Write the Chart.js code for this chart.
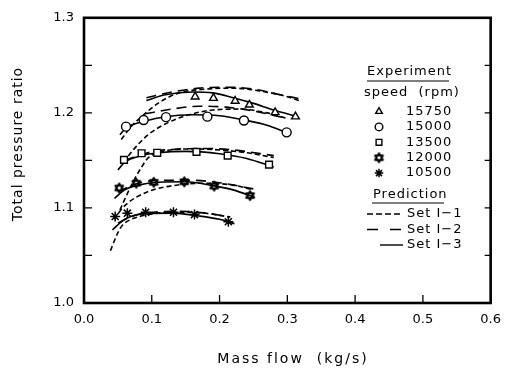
<!DOCTYPE html>
<html>
<head>
<meta charset="utf-8">
<script src="https://cdn.jsdelivr.net/npm/chart.js@4.4.0/dist/chart.umd.min.js"></script>
<style>
  html, body { margin: 0; padding: 0; background: #fff; }
  canvas { display: block; }
</style>
</head>
<body>
<canvas id="chart" width="510" height="368"></canvas>
<script>
// --- DATA ---
const speeds = ['15750', '15000', '13500', '12000', '10500'];
const xTickValues = [0, 0.1, 0.2, 0.3, 0.4, 0.5, 0.6];
const yTickValues = [1.0, 1.1, 1.2, 1.3];
const yMinorTicks = [1.05, 1.15, 1.25];
const setNames = ['Set I-1', 'Set I-2', 'Set I-3'];

// experiment (markers)
const exp15750X = [0.164, 0.191, 0.223, 0.244, 0.282, 0.312];
const exp15750Y = [1.217, 1.2155, 1.2125, 1.2085, 1.2005, 1.196];
const exp15000X = [0.062, 0.088, 0.121, 0.182, 0.236, 0.299];
const exp15000Y = [1.1855, 1.1925, 1.1955, 1.196, 1.192, 1.1795];
const exp13500X = [0.059, 0.085, 0.108, 0.166, 0.212, 0.273];
const exp13500Y = [1.1505, 1.1575, 1.158, 1.159, 1.155, 1.1455];
const exp12000X = [0.052, 0.077, 0.103, 0.148, 0.192, 0.245];
const exp12000Y = [1.121, 1.126, 1.127, 1.1275, 1.123, 1.113];
const exp10500X = [0.046, 0.064, 0.091, 0.132, 0.163, 0.213];
const exp10500Y = [1.091, 1.0945, 1.0955, 1.0955, 1.093, 1.0855];

// prediction, speed 15750
const p15750I1X = [0.055, 0.07, 0.085, 0.109, 0.14, 0.18, 0.22, 0.26, 0.3, 0.317];
const p15750I1Y = [1.172, 1.186, 1.196, 1.21, 1.221, 1.225, 1.226, 1.223, 1.217, 1.213];
const p15750I2X = [0.092, 0.13, 0.17, 0.21, 0.25, 0.29, 0.317];
const p15750I2Y = [1.216, 1.222, 1.226, 1.227, 1.225, 1.219, 1.215];
const p15750I3X = [0.092, 0.12, 0.16, 0.19, 0.22, 0.25, 0.28, 0.315];
const p15750I3Y = [1.213, 1.219, 1.222, 1.221, 1.216, 1.21, 1.203, 1.196];
// speed 15000
const p15000I1X = [0.058, 0.0775, 0.0945, 0.119, 0.15, 0.19, 0.23, 0.27, 0.3];
const p15000I1Y = [1.148, 1.165, 1.177, 1.188, 1.197, 1.203, 1.204, 1.2, 1.194];
const p15000I2X = [0.09, 0.13, 0.17, 0.21, 0.25, 0.3];
const p15000I2Y = [1.199, 1.204, 1.207, 1.206, 1.202, 1.194];
const p15000I3X = [0.053, 0.062, 0.088, 0.12, 0.16, 0.2, 0.24, 0.27, 0.3];
const p15000I3Y = [1.177, 1.184, 1.191, 1.196, 1.198, 1.197, 1.192, 1.187, 1.179];
// speed 13500
const p13500I1X = [0.053, 0.07, 0.085, 0.095, 0.12, 0.16, 0.2, 0.24, 0.28];
const p13500I1Y = [1.098, 1.124, 1.143, 1.153, 1.16, 1.162, 1.161, 1.158, 1.153];
const p13500I2X = [0.06, 0.1, 0.14, 0.18, 0.22, 0.28];
const p13500I2Y = [1.15, 1.159, 1.162, 1.1625, 1.161, 1.155];
const p13500I3X = [0.05, 0.06, 0.085, 0.11, 0.15, 0.2, 0.24, 0.28];
const p13500I3Y = [1.14, 1.148, 1.155, 1.158, 1.1595, 1.157, 1.152, 1.143];
// speed 12000
const p12000I1X = [0.044, 0.061, 0.094, 0.142, 0.18, 0.22, 0.25];
const p12000I1Y = [1.088, 1.103, 1.117, 1.1245, 1.126, 1.124, 1.119];
const p12000I2X = [0.05, 0.08, 0.12, 0.16, 0.2, 0.25];
const p12000I2Y = [1.117, 1.126, 1.129, 1.129, 1.1265, 1.12];
const p12000I3X = [0.045, 0.06, 0.08, 0.11, 0.15, 0.19, 0.22, 0.252];
const p12000I3Y = [1.11, 1.119, 1.124, 1.127, 1.1275, 1.1235, 1.119, 1.111];
// speed 10500
const p10500I1X = [0.039, 0.05, 0.057, 0.068, 0.095, 0.13, 0.17, 0.215];
const p10500I1Y = [1.055, 1.074, 1.082, 1.0875, 1.093, 1.0955, 1.095, 1.0905];
const p10500I2X = [0.05, 0.07, 0.09, 0.14, 0.18, 0.216];
const p10500I2Y = [1.084, 1.091, 1.0945, 1.0965, 1.0945, 1.0905];
const p10500I3X = [0.042, 0.06, 0.09, 0.13, 0.17, 0.2, 0.222];
const p10500I3Y = [1.077, 1.088, 1.094, 1.0945, 1.0915, 1.088, 1.0835];

// --- HELPERS ---
function pts(xs, ys) { return xs.map((x, i) => ({ x: x, y: ys[i] })); }

function hexStar() {
    const c = document.createElement('canvas');
    c.width = 13; c.height = 13;
    const g = c.getContext('2d');
    g.strokeStyle = '#000'; g.lineWidth = 1.8; g.lineJoin = 'round';
    const r = 4.6;
    [-Math.PI / 2, Math.PI / 2].forEach(rot => {
        g.beginPath();
        for (let k = 0; k < 3; k++) {
            const a = rot + k * 2 * Math.PI / 3;
            const px = 6.5 + r * Math.cos(a), py = 6.5 + r * Math.sin(a);
            if (k) g.lineTo(px, py); else g.moveTo(px, py);
        }
        g.closePath(); g.stroke();
    });
    return c;
}
const starImg = hexStar();

const markerStyles = [
    { pointStyle: 'triangle', radius: 4.5, borderWidth: 1.4 },
    { pointStyle: 'circle', radius: 4.5, borderWidth: 1.4 },
    { pointStyle: 'rect', radius: 4.8, borderWidth: 1.4 },
    { pointStyle: starImg, radius: 5, borderWidth: 1 },
    { pointStyle: 'star', radius: 5, borderWidth: 1.5 }
];
const dashes = [[5, 3], [10, 6], []];

function markerSet(xs, ys, k) {
    const m = markerStyles[k];
    return {
        label: speeds[k], data: pts(xs, ys), showLine: false, order: 0,
        pointStyle: m.pointStyle, pointRadius: m.radius, pointBorderWidth: m.borderWidth,
        pointBorderColor: '#000', pointBackgroundColor: '#fff'
    };
}
function curveSet(xs, ys, s) {
    return {
        label: setNames[s], data: pts(xs, ys), showLine: true, order: 1,
        borderColor: '#000', borderWidth: 1.6, borderDash: dashes[s],
        pointRadius: 0, tension: 0.4, cubicInterpolationMode: 'monotone', fill: false
    };
}

const datasets = [
    markerSet(exp15750X, exp15750Y, 0),
    markerSet(exp15000X, exp15000Y, 1),
    markerSet(exp13500X, exp13500Y, 2),
    markerSet(exp12000X, exp12000Y, 3),
    markerSet(exp10500X, exp10500Y, 4),
    curveSet(p15750I1X, p15750I1Y, 0), curveSet(p15750I2X, p15750I2Y, 1), curveSet(p15750I3X, p15750I3Y, 2),
    curveSet(p15000I1X, p15000I1Y, 0), curveSet(p15000I2X, p15000I2Y, 1), curveSet(p15000I3X, p15000I3Y, 2),
    curveSet(p13500I1X, p13500I1Y, 0), curveSet(p13500I2X, p13500I2Y, 1), curveSet(p13500I3X, p13500I3Y, 2),
    curveSet(p12000I1X, p12000I1Y, 0), curveSet(p12000I2X, p12000I2Y, 1), curveSet(p12000I3X, p12000I3Y, 2),
    curveSet(p10500I1X, p10500I1Y, 0), curveSet(p10500I2X, p10500I2Y, 1), curveSet(p10500I3X, p10500I3Y, 2)
];

// --- FRAME, TICKS, TITLES, LEGEND ---
const decorPlugin = {
    id: 'decor',
    afterDatasetsDraw(chart) {
        const ctx = chart.ctx, a = chart.chartArea;
        const xs = chart.scales.x, ys = chart.scales.y;
        ctx.save();
        ctx.strokeStyle = '#000';
        // ticks inside
        ctx.lineWidth = 1.3;
        ctx.beginPath();
        xTickValues.slice(1, -1).forEach(v => {
            const px = xs.getPixelForValue(v);
            ctx.moveTo(px, a.bottom); ctx.lineTo(px, a.bottom - 8);
        });
        yTickValues.slice(1, -1).concat(yMinorTicks).forEach(v => {
            const py = ys.getPixelForValue(v);
            ctx.moveTo(a.left, py); ctx.lineTo(a.left + 8, py);
            ctx.moveTo(a.right, py); ctx.lineTo(a.right - 6, py);
        });
        ctx.stroke();
        // frame
        ctx.lineWidth = 2.6;
        ctx.strokeRect(a.left, a.top, a.right - a.left, a.bottom - a.top);

        ctx.fillStyle = '#000';
        // axis titles
        ctx.font = '14px "DejaVu Sans"';
        ctx.textAlign = 'center'; ctx.textBaseline = 'middle';
        ctx.letterSpacing = '2px';
        ctx.fillText('Mass flow  (kg/s)', 293, 359);
        ctx.letterSpacing = '1px';
        ctx.translate(18, 144);
        ctx.rotate(-Math.PI / 2);
        ctx.fillText('Total pressure ratio', 0, 0);
        ctx.restore();

        // legend
        ctx.save();
        ctx.fillStyle = '#000'; ctx.strokeStyle = '#000';
        ctx.font = '13px "DejaVu Sans"';
        ctx.letterSpacing = '1px';
        ctx.textBaseline = 'middle'; ctx.textAlign = 'left';
        ctx.fillText('Experiment', 367, 72);
        ctx.lineWidth = 1.2;
        ctx.beginPath(); ctx.moveTo(367, 81); ctx.lineTo(449, 81); ctx.stroke();
        ctx.fillText('speed  (rpm)', 364, 93);
        speeds.forEach((s, k) => {
            const y = 111.5 + k * 15.4;
            const m = markerStyles[k];
            ctx.lineWidth = m.borderWidth;
            ctx.fillStyle = '#fff';
            Chart.helpers.drawPoint(ctx, { pointStyle: m.pointStyle, radius: m.radius * 0.85, borderWidth: m.borderWidth, rotation: 0 }, 379, y);
            ctx.fillStyle = '#000';
            ctx.fillText(s, 406, y);
        });
        ctx.fillText('Prediction', 373, 195);
        ctx.lineWidth = 1.2;
        ctx.beginPath(); ctx.moveTo(372, 203); ctx.lineTo(444, 203); ctx.stroke();
        setNames.forEach((n, s) => {
            const y = 214 + s * 15.5;
            ctx.lineWidth = 1.4;
            ctx.setLineDash(s === 0 ? [6, 3] : (s === 1 ? [11, 12] : []));
            ctx.beginPath();
            ctx.moveTo(s === 2 ? 380 : 367, y); ctx.lineTo(403, y);
            ctx.stroke();
            ctx.setLineDash([]);
            ctx.fillText(n.replace('I-', 'I\u2212'), 407, y);
        });
        ctx.restore();
    }
};

// --- CHART ---
new Chart(document.getElementById('chart'), {
    type: 'scatter',
    data: { datasets: datasets },
    options: {
        responsive: false,
        animation: false,
        layout: { padding: { top: 13, right: 11, left: 0, bottom: 0 } },
        plugins: { legend: { display: false }, tooltip: { enabled: false } },
        scales: {
            x: {
                type: 'linear', min: 0, max: 0.6,
                afterFit: s => { s.height = 65; },
                afterBuildTicks: s => { s.ticks = xTickValues.map(v => ({ value: v })); },
                grid: { display: false, drawTicks: false },
                border: { display: false },
                ticks: { padding: 9, color: '#000', font: { family: 'DejaVu Sans', size: 13 },
                         callback: v => v.toFixed(1), maxRotation: 0 }
            },
            y: {
                type: 'linear', min: 1.0, max: 1.3,
                afterFit: s => { s.width = 84; },
                afterBuildTicks: s => { s.ticks = yTickValues.map(v => ({ value: v })); },
                grid: { display: false, drawTicks: false },
                border: { display: false },
                ticks: { padding: 10, color: '#000', font: { family: 'DejaVu Sans', size: 13 },
                         callback: v => v.toFixed(1) }
            }
        }
    },
    plugins: [decorPlugin]
});
</script>
</body>
</html>
